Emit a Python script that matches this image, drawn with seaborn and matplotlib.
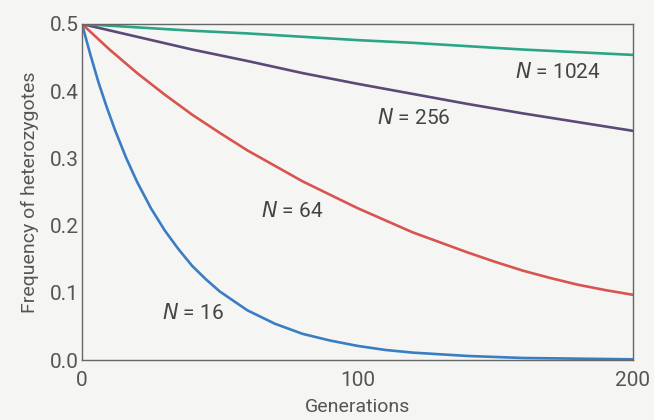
import matplotlib
matplotlib.use("Agg")
import matplotlib.pyplot as plt
import seaborn as sns
import pandas as pd

# Generations at which values were read
gen_16 = [0, 3, 6, 9, 12, 16, 20, 25, 30, 35, 40, 45, 50, 60, 70, 80, 90, 100,
          110, 120, 140, 160, 180, 200]
gen_64 = [0, 10, 20, 30, 40, 50, 60, 70, 80, 90, 100, 110, 120, 130, 140, 150,
          160, 170, 180, 190, 200]
gen_slow = [0, 20, 40, 60, 80, 100, 120, 140, 160, 180, 200]

h_16 = [0.500, 0.455, 0.413, 0.376, 0.342, 0.301, 0.265, 0.226, 0.193, 0.165, 0.140,
        0.120, 0.102, 0.074, 0.054, 0.039, 0.029, 0.021, 0.015, 0.011, 0.006, 0.003,
        0.002, 0.001]
h_64 = [0.500, 0.462, 0.427, 0.395, 0.365, 0.338, 0.312, 0.289, 0.266, 0.246, 0.226,
        0.208, 0.190, 0.175, 0.160, 0.146, 0.133, 0.122, 0.112, 0.104, 0.097]
h_256 = [0.500, 0.481, 0.462, 0.445, 0.427, 0.411, 0.396, 0.381, 0.367, 0.354, 0.341]
h_1024 = [0.500, 0.495, 0.490, 0.486, 0.481, 0.476, 0.472, 0.467, 0.462, 0.458, 0.454]

series_names = ["N = 16", "N = 64", "N = 256", "N = 1024"]
colors = ["#3b7dc2", "#d8544f", "#5b4a78", "#2aa585"]

rows = []
for name, gens, vals in [("N = 16", gen_16, h_16), ("N = 64", gen_64, h_64),
                         ("N = 256", gen_slow, h_256), ("N = 1024", gen_slow, h_1024)]:
    for g, v in zip(gens, vals):
        rows.append({"Generations": g, "H": v, "series": name})
df = pd.DataFrame(rows)

sns.set_style("white")
plt.rcParams["font.family"] = ["Roboto", "DejaVu Sans"]

fig = plt.figure(figsize=(6.54, 4.2), dpi=100)
fig.patch.set_facecolor("#f5f6f3")
ax = fig.add_axes([82 / 654, 1 - 360 / 420, (633 - 82) / 654, (360 - 24) / 420])
ax.set_facecolor("#f5f6f3")

sns.lineplot(data=df, x="Generations", y="H", hue="series", hue_order=series_names,
             palette=colors, linewidth=1.9, legend=False, ax=ax, sort=True)

ax.set_xlim(0, 200)
ax.set_ylim(0, 0.5)
ax.set_xticks([0, 100, 200])
ax.set_yticks([0.0, 0.1, 0.2, 0.3, 0.4, 0.5])
ax.set_yticklabels(["0.0", "0.1", "0.2", "0.3", "0.4", "0.5"])
ax.tick_params(direction="in", length=9, width=1.0, color="#666666",
               labelsize=15, labelcolor="#555555", pad=2)
ax.tick_params(axis="x", pad=8)
for s in ax.spines.values():
    s.set_visible(True)
    s.set_color("#666666")
    s.set_linewidth(1.0)

ax.set_xlabel("Generations", fontsize=14, color="#555555", labelpad=6)
ax.set_ylabel("Frequency of heterozygotes", fontsize=14, color="#555555", labelpad=8)

label_pos = {"N = 1024": (157, 0.428), "N = 256": (107, 0.360),
             "N = 64": (65, 0.222), "N = 16": (29, 0.070)}
for name in series_names:
    x, y = label_pos[name]
    num = name.split("= ")[1]
    ax.text(x, y, r"$\mathit{N}$ = " + num, fontsize=15, color="#444444",
            va="center", ha="left")

fig.savefig("out.png", dpi=100, facecolor=fig.get_facecolor())
